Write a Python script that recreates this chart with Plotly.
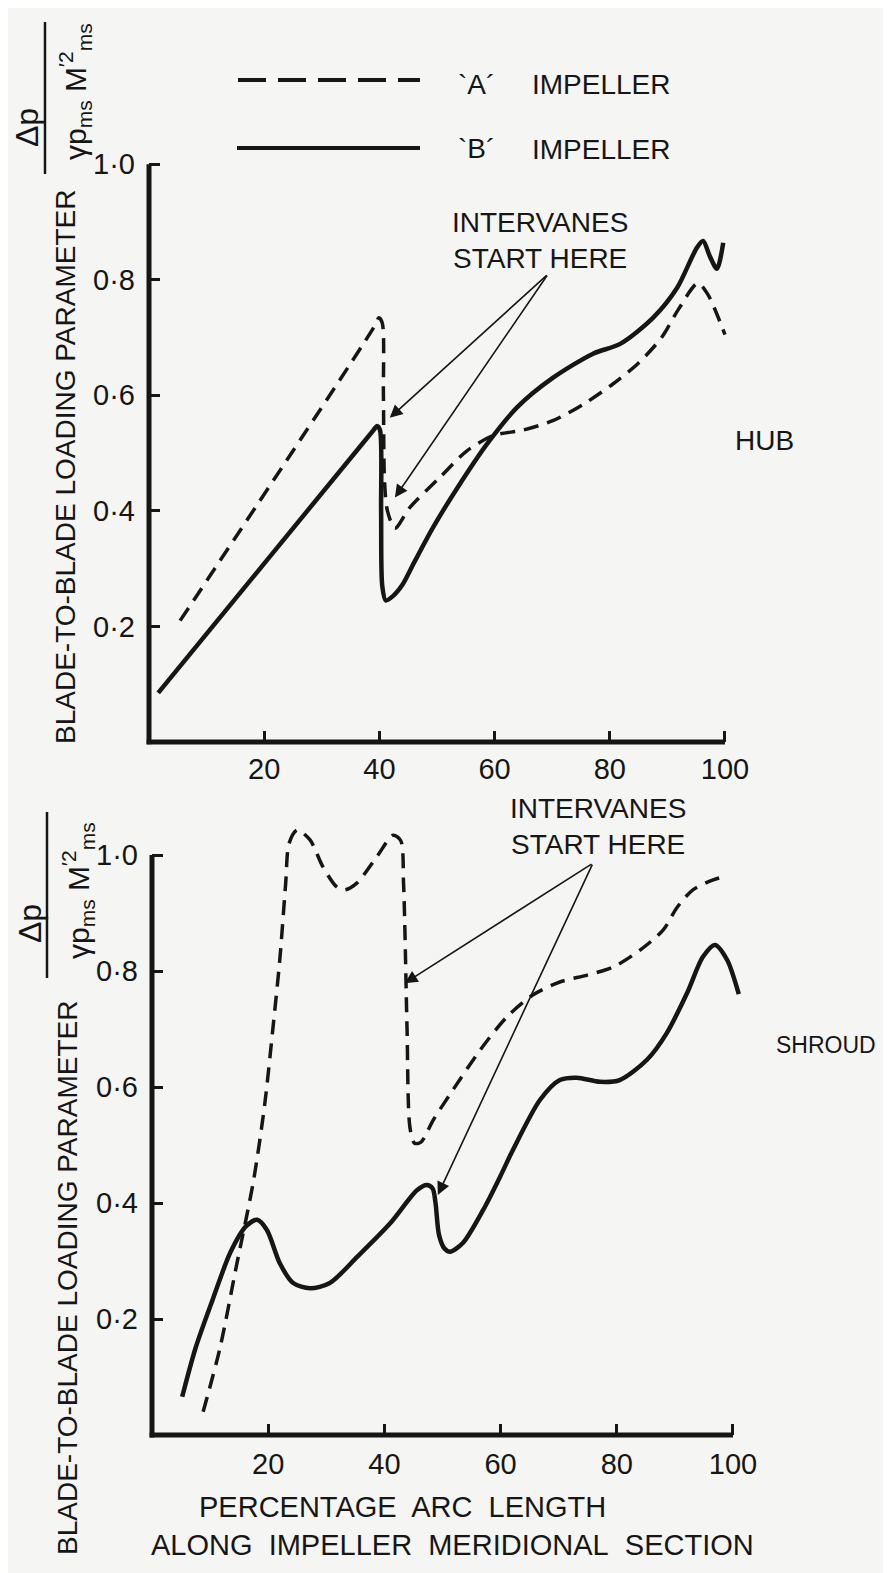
import plotly.graph_objects as go

# page offset of the browser's default body margin
OFF = 8
W, H = 891 - OFF, 1573 - OFF

# ---------------- data ----------------
x_tick_vals = [20, 40, 60, 80, 100]
x_tick_text = ["20", "40", "60", "80", "100"]
y_tick_vals = [0.2, 0.4, 0.6, 0.8, 1.0]
y_tick_text = ["0·2", "0·4", "0·6", "0·8", "1·0"]

# HUB, impeller A (dashed)
hub_a_x = [5.4, 39.3, 39.9, 40.5, 40.7, 40.9, 41.4, 42.7, 45.3, 50.5, 55.2, 59.7, 65.0,
           70.1, 75.5, 80.6, 85.0, 89.0, 92.0, 95.3, 97.0, 100.0]
hub_a_y = [0.21, 0.722, 0.734, 0.725, 0.60, 0.45, 0.40, 0.37, 0.406, 0.458, 0.504,
           0.530, 0.540, 0.556, 0.585, 0.620, 0.656, 0.700, 0.750, 0.794, 0.775, 0.705]

# HUB, impeller B (solid)
hub_b_x = [1.6, 39.0, 39.6, 40.1, 40.3, 40.5, 41.1, 42.3, 44.0, 46.0, 49.3, 54.0, 58.7,
           63.9, 70.1, 77.1, 81.8, 87.5, 91.7, 95.1, 96.2, 97.4, 98.6, 99.7]
hub_b_y = [0.085, 0.540, 0.547, 0.54, 0.40, 0.27, 0.245, 0.252, 0.272, 0.31, 0.371,
           0.447, 0.516, 0.579, 0.630, 0.672, 0.689, 0.734, 0.786, 0.855, 0.867, 0.84,
           0.819, 0.864]

# SHROUD, impeller A (dashed)
shroud_a_x = [8.8, 11.7, 14.5, 17.5, 19.4, 20.8, 22.0, 23.0, 23.6, 25.0, 27.2, 29.4,
              31.8, 33.2, 35.3, 38.7, 41.5, 42.8, 43.3, 43.9, 44.4, 45.2, 46.3, 48.4,
              51.8, 56.5, 61.1, 65.6, 70.2, 74.9, 79.4, 84.0, 88.0, 90.4, 93.1, 96.6,
              99.0]
shroud_a_y = [0.04, 0.15, 0.29, 0.44, 0.57, 0.70, 0.82, 0.95, 1.02, 1.043, 1.026, 0.98,
              0.945, 0.94, 0.952, 0.997, 1.034, 1.025, 0.95, 0.70, 0.53, 0.503, 0.505,
              0.543, 0.595, 0.664, 0.721, 0.759, 0.781, 0.793, 0.807, 0.836, 0.871,
              0.91, 0.94, 0.957, 0.964]

# SHROUD, impeller B (solid)
shroud_b_x = [5.2, 7.5, 10.5, 13.5, 16.2, 18.1, 19.8, 22.0, 24.3, 27.2, 30.6,
              35.3, 41.0, 45.6, 47.3, 48.3, 48.8, 49.4, 50.3, 51.3, 53.5, 57.0, 59.9,
              62.1, 66.8, 70.2, 73.1, 77.1, 80.5, 85.2, 88.6, 92.1, 94.8, 96.9, 99.0,
              101.0]
shroud_b_y = [0.066, 0.15, 0.235, 0.315, 0.36, 0.371, 0.353, 0.296, 0.262,
              0.253, 0.262, 0.307, 0.365, 0.422, 0.431, 0.425, 0.40, 0.345, 0.322,
              0.316, 0.331, 0.388, 0.445, 0.491, 0.578, 0.612, 0.616, 0.609, 0.612,
              0.647, 0.693, 0.762, 0.824, 0.845, 0.819, 0.76]

# "intervanes start here" pointer lines: (tail x, tail y, tip x, tip y)
hub_pointers = [(69.3, 0.81, 41.8, 0.561), (69.3, 0.81, 42.7, 0.423)]
shroud_pointers = [(75.9, 0.986, 43.5, 0.779), (75.9, 0.986, 49.2, 0.414)]

# ---------------- style ----------------
INK = "#161616"
BG = "#f5f5f3"
FONT = "Liberation Sans"
DASH = "15px,9px"
X_RANGE = [0, 101.5]
TOP_Y_RANGE = [0, 1.002]
BOT_Y_RANGE = [0, 1.08]


def px(v):
    return (v - OFF) / W


def py(v):
    return 1 - (v - OFF) / H


fig = go.Figure()

line_smooth = dict(shape="spline", smoothing=0.8)
fig.add_trace(go.Scatter(x=hub_a_x, y=hub_a_y, mode="lines", xaxis="x", yaxis="y",
                         line=dict(color=INK, width=3.5, dash=DASH, **line_smooth),
                         showlegend=False, hoverinfo="skip"))
fig.add_trace(go.Scatter(x=hub_b_x, y=hub_b_y, mode="lines", xaxis="x", yaxis="y",
                         line=dict(color=INK, width=4.5, **line_smooth),
                         showlegend=False, hoverinfo="skip"))
fig.add_trace(go.Scatter(x=shroud_a_x, y=shroud_a_y, mode="lines", xaxis="x2", yaxis="y2",
                         line=dict(color=INK, width=3.5, dash=DASH, **line_smooth),
                         showlegend=False, hoverinfo="skip"))
fig.add_trace(go.Scatter(x=shroud_b_x, y=shroud_b_y, mode="lines", xaxis="x2", yaxis="y2",
                         line=dict(color=INK, width=4.5, **line_smooth),
                         showlegend=False, hoverinfo="skip"))

axis_common = dict(showgrid=False, zeroline=False, showline=False, ticks="inside",
                   ticklen=11, tickwidth=3, tickcolor=INK, automargin=False,
                   tickfont=dict(family=FONT, size=29, color=INK), fixedrange=True)

fig.update_layout(
    width=W, height=H,
    margin=dict(l=0, r=0, t=0, b=0, pad=0),
    paper_bgcolor=BG, plot_bgcolor=BG,
    xaxis=dict(domain=[px(149), px(733.6)], range=X_RANGE, anchor="y",
               tickvals=x_tick_vals, ticktext=x_tick_text, ticklabelstandoff=7,
               **axis_common),
    yaxis=dict(domain=[py(742), py(163)], range=TOP_Y_RANGE, anchor="x",
               tickvals=y_tick_vals, ticktext=y_tick_text, ticklabelstandoff=13,
               **axis_common),
    xaxis2=dict(domain=[px(152), px(741.7)], range=X_RANGE, anchor="y2",
                tickvals=x_tick_vals, ticktext=x_tick_text, ticklabelstandoff=9,
                **axis_common),
    yaxis2=dict(domain=[py(1435), py(808.6)], range=BOT_Y_RANGE, anchor="x2",
                tickvals=y_tick_vals, ticktext=y_tick_text, ticklabelstandoff=13,
                **axis_common),
)

shapes = []
# axis lines (stop at 1.0 on y and 100 on x)
for xa, ya, yr in (("x", "y", TOP_Y_RANGE), ("x2", "y2", BOT_Y_RANGE)):
    shapes.append(dict(type="line", xref=f"{xa} domain", yref=f"{ya} domain",
                       x0=0, x1=0, y0=-0.004, y1=1.0 / yr[1],
                       line=dict(color=INK, width=5)))
    shapes.append(dict(type="line", xref=f"{xa} domain", yref=f"{ya} domain",
                       x0=-0.004, x1=100 / X_RANGE[1], y0=0, y1=0,
                       line=dict(color=INK, width=5)))
# legend samples
shapes.append(dict(type="line", xref="paper", yref="paper", x0=px(238), x1=px(420),
                   y0=py(80), y1=py(80), line=dict(color=INK, width=4, dash="28px,12px")))
shapes.append(dict(type="line", xref="paper", yref="paper", x0=px(237), x1=px(420),
                   y0=py(148), y1=py(148), line=dict(color=INK, width=4)))
# fraction bars of the y-axis title
shapes.append(dict(type="line", xref="paper", yref="paper", x0=px(45), x1=px(45),
                   y0=py(22), y1=py(174), line=dict(color=INK, width=2.5)))
shapes.append(dict(type="line", xref="paper", yref="paper", x0=px(47), x1=px(47),
                   y0=py(812), y1=py(978), line=dict(color=INK, width=2.5)))
fig.update_layout(shapes=shapes)

ann = []


def text(x, y, s, size=28, angle=0, xanchor="center"):
    ann.append(dict(x=px(x), y=py(y), xref="paper", yref="paper", text=s,
                    showarrow=False, textangle=angle, xanchor=xanchor, yanchor="middle",
                    font=dict(family=FONT, size=size, color=INK)))


# legend texts
text(476, 85, "`A´")
text(601, 84, "IMPELLER")
text(477, 148, "`B´")
text(601, 149, "IMPELLER")

# annotations
text(540, 240, "INTERVANES<br>START HERE")
text(598, 826, "INTERVANES<br>START HERE")
text(764, 440, "HUB", size=28)
text(826, 1045, "SHROUD", size=23)

# y-axis titles
text(65, 467, "BLADE-TO-BLADE LOADING PARAMETER", angle=-90)
text(67, 1278, "BLADE-TO-BLADE LOADING PARAMETER", angle=-90)
text(27, 128, "Δp", size=32, angle=-90)
text(30, 924, "Δp", size=32, angle=-90)
den = "γp<sub>ms</sub> M<sup>′2</sup><sub>ms</sub>"
text(75, 92, den, size=30, angle=-90)
text(78, 891, den, size=30, angle=-90)

# x-axis title (bottom)
text(402, 1507, "PERCENTAGE\u00a0 ARC\u00a0 LENGTH", size=29)
text(452, 1545, "ALONG\u00a0 IMPELLER\u00a0 MERIDIONAL\u00a0 SECTION", size=29)

# pointer arrows
for pts, xa, ya in ((hub_pointers, "x", "y"), (shroud_pointers, "x2", "y2")):
    for tx, ty, hx, hy in pts:
        ann.append(dict(x=hx, y=hy, ax=tx, ay=ty, xref=xa, yref=ya, axref=xa, ayref=ya,
                        text="", showarrow=True, arrowhead=2, arrowsize=1.6,
                        arrowwidth=1.6, arrowcolor=INK, standoff=0))

fig.update_layout(annotations=ann)

fig.write_html("out.html")
